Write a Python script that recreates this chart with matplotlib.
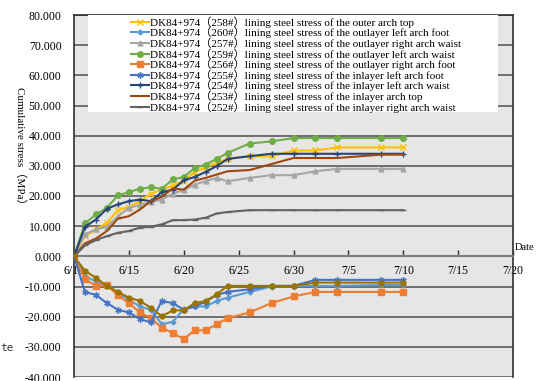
import numpy as np
import pandas as pd
import matplotlib
matplotlib.use("Agg")
import matplotlib.pyplot as plt
import matplotlib.dates as mdates
from matplotlib.patches import Rectangle
from matplotlib.ticker import FuncFormatter, MultipleLocator

# measurement dates (6/10 .. 7/10)
dates = pd.to_datetime([
    "2019-06-10", "2019-06-11", "2019-06-12", "2019-06-13", "2019-06-14",
    "2019-06-15", "2019-06-16", "2019-06-17", "2019-06-18", "2019-06-19",
    "2019-06-20", "2019-06-21", "2019-06-22", "2019-06-23", "2019-06-24",
    "2019-06-26", "2019-06-28", "2019-06-30", "2019-07-02", "2019-07-04",
    "2019-07-08", "2019-07-10",
])

# cumulative stress (MPa)
s258 = [0, 6.7, 8.9, 11.1, 15.3, 16.4, 18.3, 20.8, 22.1, 23.5, 25.0, 28.0, 29.5, 31.0,
        32.3, 33.2, 33.1, 35.1, 35.1, 36.1, 36.1, 36.1]
s260 = [0, -6.5, -8.4, -9.8, -12.0, -14.4, -16.6, -17.7, -22.5, -21.7, -17.5, -16.6, -16.6,
        -14.8, -13.7, -11.8, -10.0, -9.8, -9.8, -9.8, -9.5, -9.5]
s257 = [0, 7.3, 8.9, 9.8, 13.3, 16.1, 17.0, 18.0, 18.8, 20.8, 21.9, 23.8, 24.9, 26.0,
        24.9, 26.0, 26.9, 26.9, 28.2, 29.0, 29.0, 29.0]
s259 = [0, 10.9, 13.9, 16.1, 20.2, 21.3, 22.4, 22.9, 22.4, 25.5, 26.3, 29.3, 30.4, 32.3,
        34.3, 37.4, 38.1, 39.2, 39.2, 39.2, 39.2, 39.2]
s256 = [0, -7.6, -9.8, -9.6, -12.9, -15.5, -18.6, -20.5, -23.6, -25.5, -27.4, -24.5, -24.5,
        -22.5, -20.5, -18.6, -15.5, -13.3, -11.8, -11.8, -11.8, -11.8]
s255 = [0, -11.8, -12.8, -15.5, -17.7, -18.6, -20.8, -21.9, -14.8, -15.5, -17.7, -16.6, -15.0,
        -12.8, -11.8, -10.9, -9.8, -9.8, -7.8, -7.8, -7.8, -7.8]
s254 = [0, 9.8, 12.2, 15.8, 17.2, 18.3, 18.8, 18.3, 21.3, 22.1, 25.2, 26.3, 28.0, 29.9,
        32.3, 33.2, 34.0, 34.0, 34.0, 34.0, 34.0, 34.0]
s253 = [0, 4.3, 5.9, 8.4, 12.5, 13.3, 15.5, 18.3, 19.7, 22.5, 22.1, 25.1, 26.0, 27.1,
        28.2, 28.6, 30.6, 32.6, 32.6, 32.6, 33.7, 33.7]
s252 = [0, 3.6, 5.4, 6.7, 7.8, 8.4, 9.5, 9.8, 10.6, 12.0, 12.0, 12.2, 12.8, 14.2,
        14.7, 15.3, 15.3, 15.3, 15.3, 15.3, 15.3, 15.3]
s_extra = [0, -4.8, -7.1, -9.8, -11.8, -13.7, -14.8, -17.0, -19.9, -17.9, -17.9, -15.5, -14.8,
           -12.6, -9.8, -9.8, -9.8, -9.8, -8.7, -8.7, -8.7, -8.7]

labels = [
    "DK84+974（258#）lining steel stress of the outer arch top",
    "DK84+974（260#）lining steel stress of the outlayer left arch foot",
    "DK84+974（257#）lining steel stress of the outlayer right arch waist",
    "DK84+974（259#）lining steel stress of the outlayer left arch waist",
    "DK84+974（256#）lining steel stress of the outlayer right arch foot",
    "DK84+974（255#）lining steel stress of the inlayer left arch foot",
    "DK84+974（254#）lining steel stress of the inlayer left arch waist",
    "DK84+974（253#）lining steel stress of the inlayer arch top",
    "DK84+974（252#）lining steel stress of the inlayer right arch waist",
]

serif = ["Liberation Serif", "Noto Sans CJK SC", "DejaVu Sans"]

fig = plt.figure(figsize=(5.36, 3.81), dpi=100)
ax = fig.add_axes([74 / 536, 4 / 381, 439 / 536, 362 / 381])
ax.set_facecolor("#e6e6e6")

series = [s258, s260, s257, s259, s256, s255, s254, s253, s252]
colors = ["#ffc000", "#5b9bd5", "#a5a5a5", "#70ad47", "#ed7d31",
          "#4472c4", "#264478", "#9e480e", "#636363"]
markers = ["x", "D", "^", "o", "s", (6, 2, 0), "+", None, "_"]
msizes = [4, 2.5, 3.5, 4, 4, 4.5, 5, 0, 4]

for vals, c, m, ms, lab in zip(series, colors, markers, msizes, labels):
    ax.plot(dates, vals, color=c, marker=m, ms=ms, lw=1.5, mew=1.0, label=lab, zorder=4)
ax.plot(dates, s_extra, color="#997300", marker="o", ms=3.5, lw=1.5, zorder=4)

ax.set_xlim(pd.Timestamp("2019-06-10"), pd.Timestamp("2019-07-20"))
ax.set_ylim(-40, 80)
ax.yaxis.set_major_locator(MultipleLocator(10))
ax.yaxis.set_major_formatter(FuncFormatter(lambda v, p: f"{v:.3f}"))
ax.xaxis.set_major_locator(mdates.DayLocator(bymonthday=[5, 10, 15, 20, 25, 30]))
ax.xaxis.set_major_formatter(FuncFormatter(lambda v, p: f"{mdates.num2date(v).month}/{mdates.num2date(v).day}"))

ax.grid(axis="y", color="#5a5a5a", lw=1.2, zorder=1)
ax.set_axisbelow(True)

ax.spines["bottom"].set_position(("data", 0))
ax.spines["bottom"].set_color("#7f7f7f")
ax.spines["bottom"].set_linewidth(1.5)
for side in ["left", "top", "right"]:
    ax.spines[side].set_color("#303030")
    ax.spines[side].set_linewidth(1.2)

ax.tick_params(axis="x", direction="in", length=4, width=1, color="#303030", pad=6)
ax.tick_params(axis="y", length=0, pad=9)
for t in ax.get_xticklabels() + ax.get_yticklabels():
    t.set_family(serif)
    t.set_fontsize(8.5)

# white legend area
ax.add_patch(Rectangle((14 / 439, 265 / 362), 410 / 439, 97 / 362, transform=ax.transAxes,
                       facecolor="white", edgecolor="none", zorder=5))
leg = ax.legend(loc="upper left", bbox_to_anchor=(56 / 439, 1.0), frameon=False,
                prop={"family": serif, "size": 8}, labelspacing=-0.08, handlelength=1.6,
                handletextpad=0.1, borderpad=0.1, borderaxespad=0)
leg.set_zorder(6)

fig.text(20 / 536, 1 - 148 / 381, "Cumulative stress（MPa）", rotation=270, ha="center",
         va="center", family=serif, fontsize=8)
fig.text(515 / 536, 1 - 247 / 381, "Date", ha="left", va="center", family=serif, fontsize=7.5)
fig.text(0, 1 - 348 / 381, "te", ha="left", va="center", family="DejaVu Sans Mono",
         fontsize=8, color="#333333")

fig.savefig("out.png", dpi=100)
